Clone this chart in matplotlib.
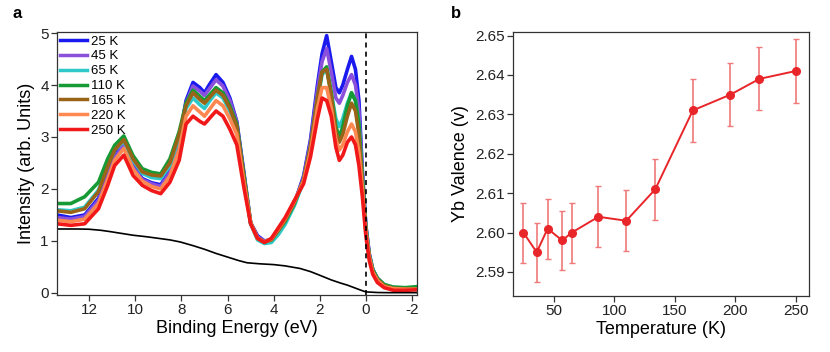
import matplotlib
matplotlib.use("Agg")
import matplotlib.pyplot as plt
from matplotlib.ticker import FormatStrFormatter

plt.rcParams['font.family'] = ['Liberation Sans', 'DejaVu Sans']

# ---------------- Panel a data ----------------
energy = [13.4, 12.8, 12.2, 11.6, 11.2, 10.9, 10.5, 10.1, 9.7, 9.3, 8.9, 8.5, 8.1, 7.8,
          7.5, 7.2, 7.0, 6.8, 6.5, 6.2, 5.9, 5.6, 5.3, 5.0, 4.7, 4.4, 4.1, 3.8, 3.5, 3.1,
          2.7, 2.4, 2.1, 1.9, 1.7, 1.5, 1.3, 1.15, 1.0, 0.8, 0.62, 0.45, 0.3, 0.15,
          0.0, -0.15, -0.3, -0.5, -0.8, -1.2, -1.7, -2.2]

spec_25K = [1.50, 1.45, 1.50, 1.82, 2.30, 2.65, 2.90, 2.45, 2.20, 2.12, 2.08, 2.35, 2.95, 3.70,
            4.05, 3.95, 3.85, 4.00, 4.20, 4.05, 3.75, 3.30, 2.35, 1.35, 1.10, 1.00, 1.02, 1.20, 1.38, 1.72,
            2.25, 2.95, 4.00, 4.60, 4.95, 4.45, 3.95, 3.85, 4.00, 4.30, 4.55, 4.30, 3.70, 2.35,
            1.30, 0.75, 0.45, 0.28, 0.15, 0.09, 0.08, 0.08]
spec_45K = [1.45, 1.42, 1.47, 1.78, 2.25, 2.60, 2.85, 2.42, 2.18, 2.10, 2.05, 2.32, 2.92, 3.65,
            3.98, 3.88, 3.80, 3.92, 4.10, 3.98, 3.70, 3.28, 2.30, 1.35, 1.08, 1.00, 1.02, 1.20, 1.38, 1.72,
            2.22, 2.90, 3.90, 4.45, 4.70, 4.25, 3.75, 3.65, 3.80, 4.05, 4.20, 4.00, 3.50, 2.30,
            1.28, 0.75, 0.45, 0.28, 0.15, 0.09, 0.08, 0.08]
spec_65K = [1.60, 1.58, 1.65, 1.98, 2.45, 2.75, 2.92, 2.55, 2.30, 2.22, 2.20, 2.45, 3.00, 3.55,
            3.75, 3.62, 3.55, 3.68, 3.85, 3.75, 3.50, 3.15, 2.25, 1.33, 1.02, 0.95, 0.97, 1.12, 1.32, 1.68,
            2.15, 2.80, 3.70, 4.20, 4.30, 3.85, 3.35, 3.20, 3.35, 3.65, 3.85, 3.70, 3.25, 2.20,
            1.25, 0.72, 0.45, 0.28, 0.16, 0.11, 0.10, 0.10]
spec_110K = [1.72, 1.72, 1.85, 2.13, 2.58, 2.84, 3.02, 2.64, 2.39, 2.32, 2.29, 2.58, 3.10, 3.65,
             3.90, 3.78, 3.70, 3.80, 3.95, 3.85, 3.60, 3.25, 2.30, 1.35, 1.05, 0.98, 1.02, 1.20, 1.38, 1.72,
             2.18, 2.82, 3.75, 4.25, 4.35, 3.85, 3.20, 3.00, 3.20, 3.60, 3.85, 3.70, 3.25, 2.20,
             1.25, 0.72, 0.45, 0.28, 0.16, 0.11, 0.10, 0.12]
spec_165K = [1.58, 1.55, 1.62, 1.95, 2.43, 2.75, 2.95, 2.58, 2.33, 2.27, 2.25, 2.50, 3.05, 3.60,
             3.85, 3.72, 3.65, 3.75, 3.90, 3.80, 3.55, 3.20, 2.25, 1.35, 1.05, 0.98, 1.02, 1.20, 1.40, 1.74,
             2.18, 2.82, 3.75, 4.25, 4.30, 3.80, 3.10, 2.90, 3.05, 3.40, 3.65, 3.50, 3.05, 2.10,
             1.22, 0.70, 0.42, 0.26, 0.14, 0.09, 0.08, 0.08]
spec_220K = [1.40, 1.37, 1.42, 1.72, 2.18, 2.55, 2.78, 2.38, 2.15, 2.05, 2.00, 2.25, 2.75, 3.40,
             3.60, 3.48, 3.40, 3.52, 3.70, 3.60, 3.35, 3.05, 2.15, 1.35, 1.05, 0.98, 1.04, 1.23, 1.43, 1.76,
             2.15, 2.72, 3.55, 3.95, 3.95, 3.55, 2.95, 2.75, 2.85, 3.10, 3.25, 3.10, 2.70, 2.00,
             1.18, 0.68, 0.40, 0.24, 0.12, 0.08, 0.07, 0.07]
spec_250K = [1.33, 1.30, 1.33, 1.62, 2.07, 2.45, 2.65, 2.26, 2.07, 1.97, 1.91, 2.13, 2.55, 3.25,
             3.40, 3.30, 3.25, 3.35, 3.50, 3.40, 3.15, 2.85, 2.05, 1.33, 1.05, 0.97, 1.05, 1.25, 1.45, 1.78,
             2.10, 2.62, 3.35, 3.75, 3.70, 3.40, 2.80, 2.55, 2.65, 2.90, 3.00, 2.85, 2.45, 1.85,
             1.10, 0.62, 0.36, 0.20, 0.10, 0.05, 0.05, 0.06]

spectra = [spec_25K, spec_45K, spec_65K, spec_110K, spec_165K, spec_220K, spec_250K]
spec_labels = ['25 K', '45 K', '65 K', '110 K', '165 K', '220 K', '250 K']
spec_colors = ['#1a1aee', '#8a50dc', '#2ec8c8', '#159a35', '#9a6418', '#ff8850', '#f01818']

bg_energy = [13.4, 12.5, 12.0, 11.5, 11.1, 10.6, 10.1, 9.5, 9.0, 8.5, 8.05, 7.5, 7.0, 6.5,
             6.0, 5.5, 5.15, 4.6, 4.0, 3.5, 2.85, 2.4, 2.0, 1.5, 1.1, 0.8, 0.5, 0.2, 0.0, -0.5, -1.0, -2.2]
bg_intensity = [1.23, 1.23, 1.225, 1.205, 1.18, 1.145, 1.11, 1.08, 1.05, 1.02, 0.98, 0.91, 0.84, 0.76,
                0.69, 0.62, 0.58, 0.56, 0.545, 0.52, 0.47, 0.41, 0.34, 0.25, 0.19, 0.15, 0.10, 0.05, 0.02, 0.008, 0.005, 0.005]

# ---------------- Panel b data ----------------
temperature = [25, 36, 45, 57, 65, 87, 110, 134, 165, 196, 220, 250]
valence = [2.600, 2.595, 2.601, 2.598, 2.600, 2.604, 2.603, 2.611, 2.631, 2.635, 2.639, 2.641]
valence_err = [0.0076, 0.0075, 0.0076, 0.0075, 0.0076, 0.0077, 0.0077, 0.0077, 0.0079, 0.008, 0.008, 0.008]

fig = plt.figure(figsize=(8.3, 3.52), dpi=100)

frame_col = '#333333'

# ---------------- Panel a ----------------
ax1 = fig.add_axes([57/830, (352-295)/352, (417-57)/830, (295-32)/352])
for s, lab, c in zip(spectra, spec_labels, spec_colors):
    ax1.plot(energy, s, color=c, lw=2.6, label=lab, solid_joinstyle='round')
ax1.plot(bg_energy, bg_intensity, color='black', lw=1.2)
ax1.axvline(0, color='black', lw=1.2, ls=(0, (3, 2.5)))
ax1.set_xlim(13.4, -2.22)
ax1.set_ylim(-0.04, 5.02)
ax1.set_xticks([12, 10, 8, 6, 4, 2, 0, -2])
ax1.set_xticklabels(['12', '10', '8', '6', '4', '2', '0', '-2'])
ax1.set_yticks([0, 1, 2, 3, 4, 5])
ax1.set_xlabel('Binding Energy (eV)', fontsize=13, labelpad=2)
ax1.set_ylabel('Intensity (arb. Units)', fontsize=13, labelpad=4)
leg = ax1.legend(loc='upper left', frameon=False, fontsize=9.5, handlelength=2.0,
                 handletextpad=0.35, labelspacing=0.2, borderaxespad=0.15,
                 borderpad=0.1)
for line in leg.get_lines():
    line.set_linewidth(2.5)

# ---------------- Panel b ----------------
ax2 = fig.add_axes([513/830, (352-296)/352, 296/830, 264/352])
ax2.errorbar(temperature, valence, yerr=valence_err, fmt='none', ecolor='#f07a7a',
             elinewidth=1.2, capsize=2.2, capthick=1.0, zorder=2)
ax2.plot(temperature, valence, color='#e8262a', lw=1.4, marker='o', ms=5.5, zorder=3)
ax2.set_xlim(16.4, 261)
ax2.set_ylim(2.5839, 2.6509)
ax2.set_xticks([50, 100, 150, 200, 250])
ax2.set_yticks([2.59, 2.60, 2.61, 2.62, 2.63, 2.64, 2.65])
ax2.yaxis.set_major_formatter(FormatStrFormatter('%.2f'))
ax2.set_xlabel('Temperature (K)', fontsize=13, labelpad=2)
ax2.set_ylabel('Yb Valence (v)', fontsize=13, labelpad=4)

for ax in (ax1, ax2):
    for sp in ax.spines.values():
        sp.set_color(frame_col)
        sp.set_linewidth(0.9)
    ax.tick_params(direction='out', length=4, width=0.9, color=frame_col,
                   labelsize=11, labelcolor='#222222', pad=2)

fig.text(12/830, 1 - 14/352, 'a', fontsize=12, fontweight='bold', va='center', ha='left')
fig.text(451/830, 1 - 14/352, 'b', fontsize=12, fontweight='bold', va='center', ha='left')

fig.savefig('out.png', dpi=100)
